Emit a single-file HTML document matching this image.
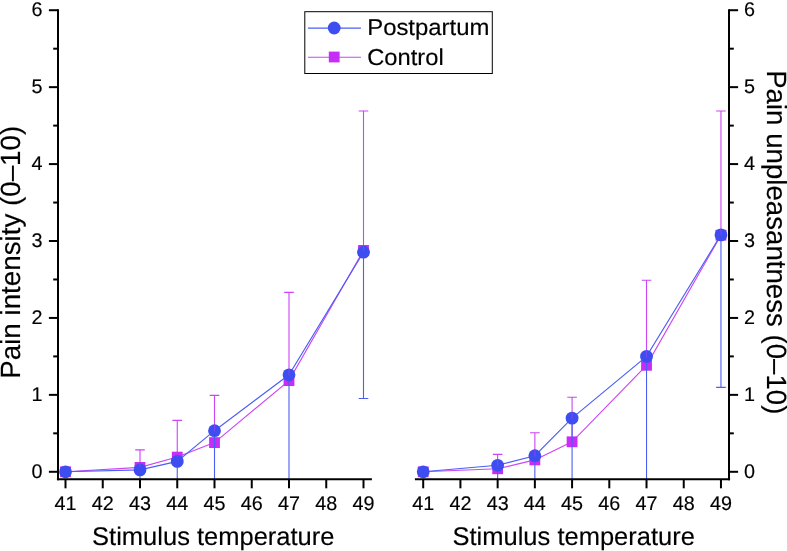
<!DOCTYPE html>
<html><head><meta charset="utf-8"><title>Chart</title>
<style>
html,body{margin:0;padding:0;background:#fff;}
svg{display:block;will-change:transform;}
text{text-rendering:geometricPrecision;}
text{font-family:"Liberation Sans",sans-serif;fill:#000;stroke:#000;stroke-width:0.15px;}
.tk{font-size:19.8px;}
.lg{font-size:23px;}
.xl{font-size:25.5px;}
.yl{font-size:27.8px;}
</style></head>
<body>
<svg width="787" height="551" viewBox="0 0 787 551">
<rect width="787" height="551" fill="#fff"/>
<polyline fill="none" stroke="#cc44f6" stroke-width="1.1" points="65.50,471.80 140.00,467.40 177.25,457.10 214.50,442.60 289.00,380.60 363.50,250.40"/>
<path d="M140.00 467.40V449.90M135.20 449.90H144.80" stroke="#cc44f6" stroke-width="1.1" fill="none"/>
<path d="M177.25 457.10V420.40M172.45 420.40H182.05" stroke="#cc44f6" stroke-width="1.1" fill="none"/>
<path d="M214.50 442.60V395.40M209.70 395.40H219.30" stroke="#cc44f6" stroke-width="1.1" fill="none"/>
<path d="M289.00 380.60V292.40M284.20 292.40H293.80" stroke="#cc44f6" stroke-width="1.1" fill="none"/>
<path d="M363.50 250.40V111.00M358.70 111.00H368.30" stroke="#cc44f6" stroke-width="1.1" fill="none"/>
<rect x="60.10" y="466.40" width="10.8" height="10.8" fill="#c62df6"/>
<rect x="134.60" y="462.00" width="10.8" height="10.8" fill="#c62df6"/>
<rect x="171.85" y="451.70" width="10.8" height="10.8" fill="#c62df6"/>
<rect x="209.10" y="437.20" width="10.8" height="10.8" fill="#c62df6"/>
<rect x="283.60" y="375.20" width="10.8" height="10.8" fill="#c62df6"/>
<rect x="358.10" y="245.00" width="10.8" height="10.8" fill="#c62df6"/>
<polyline fill="none" stroke="#4a5ef4" stroke-width="1.1" points="65.50,471.80 140.00,469.90 177.25,461.40 214.50,430.70 289.00,374.80 363.50,252.20"/>
<path d="M140.00 469.90V479.25" stroke="#4a5ef4" stroke-width="1.1" fill="none"/>
<path d="M177.25 461.40V479.25" stroke="#4a5ef4" stroke-width="1.1" fill="none"/>
<path d="M214.50 430.70V479.25" stroke="#4a5ef4" stroke-width="1.1" fill="none"/>
<path d="M289.00 374.80V479.25" stroke="#4a5ef4" stroke-width="1.1" fill="none"/>
<path d="M363.50 252.20V398.50M358.70 398.50H368.30" stroke="#4a5ef4" stroke-width="1.1" fill="none"/>
<circle cx="65.50" cy="471.80" r="6.4" fill="#3d4df0"/>
<circle cx="140.00" cy="469.90" r="6.4" fill="#3d4df0"/>
<circle cx="177.25" cy="461.40" r="6.4" fill="#3d4df0"/>
<circle cx="214.50" cy="430.70" r="6.4" fill="#3d4df0"/>
<circle cx="289.00" cy="374.80" r="6.4" fill="#3d4df0"/>
<circle cx="363.50" cy="252.20" r="6.4" fill="#3d4df0"/>
<path d="M140.00 463.90V467.40" stroke="#cc44f6" stroke-width="1.1" fill="none" opacity="0.4"/>
<path d="M177.25 455.40V457.10" stroke="#cc44f6" stroke-width="1.1" fill="none" opacity="0.4"/>
<path d="M214.50 424.70V431.70" stroke="#cc44f6" stroke-width="1.1" fill="none" opacity="0.4"/>
<path d="M289.00 368.80V375.80" stroke="#cc44f6" stroke-width="1.1" fill="none" opacity="0.4"/>
<path d="M363.50 246.20V250.40" stroke="#cc44f6" stroke-width="1.1" fill="none" opacity="0.4"/>
<path d="M56.90 479.25H371.90" stroke="#000" stroke-width="2.0" fill="none"/>
<path d="M58.00 9.20V480.35" stroke="#000" stroke-width="2.0" fill="none"/>
<path d="M65.50 479.25V488.30" stroke="#000" stroke-width="2.0" fill="none"/>
<text x="65.50" y="509.7" text-anchor="middle" class="tk">41</text>
<path d="M102.75 479.25V488.30" stroke="#000" stroke-width="2.0" fill="none"/>
<text x="102.75" y="509.7" text-anchor="middle" class="tk">42</text>
<path d="M140.00 479.25V488.30" stroke="#000" stroke-width="2.0" fill="none"/>
<text x="140.00" y="509.7" text-anchor="middle" class="tk">43</text>
<path d="M177.25 479.25V488.30" stroke="#000" stroke-width="2.0" fill="none"/>
<text x="177.25" y="509.7" text-anchor="middle" class="tk">44</text>
<path d="M214.50 479.25V488.30" stroke="#000" stroke-width="2.0" fill="none"/>
<text x="214.50" y="509.7" text-anchor="middle" class="tk">45</text>
<path d="M251.75 479.25V488.30" stroke="#000" stroke-width="2.0" fill="none"/>
<text x="251.75" y="509.7" text-anchor="middle" class="tk">46</text>
<path d="M289.00 479.25V488.30" stroke="#000" stroke-width="2.0" fill="none"/>
<text x="289.00" y="509.7" text-anchor="middle" class="tk">47</text>
<path d="M326.25 479.25V488.30" stroke="#000" stroke-width="2.0" fill="none"/>
<text x="326.25" y="509.7" text-anchor="middle" class="tk">48</text>
<path d="M363.50 479.25V488.30" stroke="#000" stroke-width="2.0" fill="none"/>
<text x="363.50" y="509.7" text-anchor="middle" class="tk">49</text>
<path d="M58.00 471.80H48.90" stroke="#000" stroke-width="2" fill="none"/>
<text x="42.6" y="477.90" text-anchor="end" class="tk">0</text>
<path d="M58.00 433.34H53.20" stroke="#000" stroke-width="2" fill="none"/>
<path d="M58.00 394.87H48.90" stroke="#000" stroke-width="2" fill="none"/>
<text x="42.6" y="400.97" text-anchor="end" class="tk">1</text>
<path d="M58.00 356.40H53.20" stroke="#000" stroke-width="2" fill="none"/>
<path d="M58.00 317.94H48.90" stroke="#000" stroke-width="2" fill="none"/>
<text x="42.6" y="324.04" text-anchor="end" class="tk">2</text>
<path d="M58.00 279.48H53.20" stroke="#000" stroke-width="2" fill="none"/>
<path d="M58.00 241.01H48.90" stroke="#000" stroke-width="2" fill="none"/>
<text x="42.6" y="247.11" text-anchor="end" class="tk">3</text>
<path d="M58.00 202.55H53.20" stroke="#000" stroke-width="2" fill="none"/>
<path d="M58.00 164.08H48.90" stroke="#000" stroke-width="2" fill="none"/>
<text x="42.6" y="170.18" text-anchor="end" class="tk">4</text>
<path d="M58.00 125.61H53.20" stroke="#000" stroke-width="2" fill="none"/>
<path d="M58.00 87.15H48.90" stroke="#000" stroke-width="2" fill="none"/>
<text x="42.6" y="93.25" text-anchor="end" class="tk">5</text>
<path d="M58.00 48.69H53.20" stroke="#000" stroke-width="2" fill="none"/>
<path d="M58.00 10.22H48.90" stroke="#000" stroke-width="2" fill="none"/>
<text x="42.6" y="16.32" text-anchor="end" class="tk">6</text>
<polyline fill="none" stroke="#cc44f6" stroke-width="1.1" points="423.20,471.80 497.64,468.80 534.86,459.90 572.08,441.80 646.52,365.30 720.96,235.20"/>
<path d="M497.64 468.80V454.40M492.84 454.40H502.44" stroke="#cc44f6" stroke-width="1.1" fill="none"/>
<path d="M534.86 459.90V432.80M530.06 432.80H539.66" stroke="#cc44f6" stroke-width="1.1" fill="none"/>
<path d="M572.08 441.80V397.20M567.28 397.20H576.88" stroke="#cc44f6" stroke-width="1.1" fill="none"/>
<path d="M646.52 365.30V280.20M641.72 280.20H651.32" stroke="#cc44f6" stroke-width="1.1" fill="none"/>
<path d="M720.96 235.20V111.00M716.16 111.00H725.76" stroke="#cc44f6" stroke-width="1.1" fill="none"/>
<rect x="417.80" y="466.40" width="10.8" height="10.8" fill="#c62df6"/>
<rect x="492.24" y="463.40" width="10.8" height="10.8" fill="#c62df6"/>
<rect x="529.46" y="454.50" width="10.8" height="10.8" fill="#c62df6"/>
<rect x="566.68" y="436.40" width="10.8" height="10.8" fill="#c62df6"/>
<rect x="641.12" y="359.90" width="10.8" height="10.8" fill="#c62df6"/>
<rect x="715.56" y="229.80" width="10.8" height="10.8" fill="#c62df6"/>
<polyline fill="none" stroke="#4a5ef4" stroke-width="1.1" points="423.20,471.80 497.64,465.30 534.86,455.70 572.08,418.15 646.52,356.40 720.96,234.90"/>
<path d="M497.64 465.30V479.25" stroke="#4a5ef4" stroke-width="1.1" fill="none"/>
<path d="M534.86 455.70V479.25" stroke="#4a5ef4" stroke-width="1.1" fill="none"/>
<path d="M572.08 418.15V479.25" stroke="#4a5ef4" stroke-width="1.1" fill="none"/>
<path d="M646.52 356.40V479.25" stroke="#4a5ef4" stroke-width="1.1" fill="none"/>
<path d="M720.96 234.90V387.40M716.16 387.40H725.76" stroke="#4a5ef4" stroke-width="1.1" fill="none"/>
<circle cx="423.20" cy="471.80" r="6.4" fill="#3d4df0"/>
<circle cx="497.64" cy="465.30" r="6.4" fill="#3d4df0"/>
<circle cx="534.86" cy="455.70" r="6.4" fill="#3d4df0"/>
<circle cx="572.08" cy="418.15" r="6.4" fill="#3d4df0"/>
<circle cx="646.52" cy="356.40" r="6.4" fill="#3d4df0"/>
<circle cx="720.96" cy="234.90" r="6.4" fill="#3d4df0"/>
<path d="M497.64 459.30V466.30" stroke="#cc44f6" stroke-width="1.1" fill="none" opacity="0.4"/>
<path d="M534.86 449.70V456.70" stroke="#cc44f6" stroke-width="1.1" fill="none" opacity="0.4"/>
<path d="M572.08 412.15V419.15" stroke="#cc44f6" stroke-width="1.1" fill="none" opacity="0.4"/>
<path d="M646.52 350.40V357.40" stroke="#cc44f6" stroke-width="1.1" fill="none" opacity="0.4"/>
<path d="M720.96 228.90V235.20" stroke="#cc44f6" stroke-width="1.1" fill="none" opacity="0.4"/>
<path d="M414.90 479.25H730.10" stroke="#000" stroke-width="2.0" fill="none"/>
<path d="M729.00 9.20V480.35" stroke="#000" stroke-width="2.0" fill="none"/>
<path d="M423.20 479.25V488.30" stroke="#000" stroke-width="2.0" fill="none"/>
<text x="423.20" y="509.7" text-anchor="middle" class="tk">41</text>
<path d="M460.42 479.25V488.30" stroke="#000" stroke-width="2.0" fill="none"/>
<text x="460.42" y="509.7" text-anchor="middle" class="tk">42</text>
<path d="M497.64 479.25V488.30" stroke="#000" stroke-width="2.0" fill="none"/>
<text x="497.64" y="509.7" text-anchor="middle" class="tk">43</text>
<path d="M534.86 479.25V488.30" stroke="#000" stroke-width="2.0" fill="none"/>
<text x="534.86" y="509.7" text-anchor="middle" class="tk">44</text>
<path d="M572.08 479.25V488.30" stroke="#000" stroke-width="2.0" fill="none"/>
<text x="572.08" y="509.7" text-anchor="middle" class="tk">45</text>
<path d="M609.30 479.25V488.30" stroke="#000" stroke-width="2.0" fill="none"/>
<text x="609.30" y="509.7" text-anchor="middle" class="tk">46</text>
<path d="M646.52 479.25V488.30" stroke="#000" stroke-width="2.0" fill="none"/>
<text x="646.52" y="509.7" text-anchor="middle" class="tk">47</text>
<path d="M683.74 479.25V488.30" stroke="#000" stroke-width="2.0" fill="none"/>
<text x="683.74" y="509.7" text-anchor="middle" class="tk">48</text>
<path d="M720.96 479.25V488.30" stroke="#000" stroke-width="2.0" fill="none"/>
<text x="720.96" y="509.7" text-anchor="middle" class="tk">49</text>
<path d="M729.00 471.80H738.10" stroke="#000" stroke-width="2" fill="none"/>
<text x="744.0" y="477.90" text-anchor="start" class="tk">0</text>
<path d="M729.00 433.34H733.80" stroke="#000" stroke-width="2" fill="none"/>
<path d="M729.00 394.87H738.10" stroke="#000" stroke-width="2" fill="none"/>
<text x="744.0" y="400.97" text-anchor="start" class="tk">1</text>
<path d="M729.00 356.40H733.80" stroke="#000" stroke-width="2" fill="none"/>
<path d="M729.00 317.94H738.10" stroke="#000" stroke-width="2" fill="none"/>
<text x="744.0" y="324.04" text-anchor="start" class="tk">2</text>
<path d="M729.00 279.48H733.80" stroke="#000" stroke-width="2" fill="none"/>
<path d="M729.00 241.01H738.10" stroke="#000" stroke-width="2" fill="none"/>
<text x="744.0" y="247.11" text-anchor="start" class="tk">3</text>
<path d="M729.00 202.55H733.80" stroke="#000" stroke-width="2" fill="none"/>
<path d="M729.00 164.08H738.10" stroke="#000" stroke-width="2" fill="none"/>
<text x="744.0" y="170.18" text-anchor="start" class="tk">4</text>
<path d="M729.00 125.61H733.80" stroke="#000" stroke-width="2" fill="none"/>
<path d="M729.00 87.15H738.10" stroke="#000" stroke-width="2" fill="none"/>
<text x="744.0" y="93.25" text-anchor="start" class="tk">5</text>
<path d="M729.00 48.69H733.80" stroke="#000" stroke-width="2" fill="none"/>
<path d="M729.00 10.22H738.10" stroke="#000" stroke-width="2" fill="none"/>
<text x="744.0" y="16.32" text-anchor="start" class="tk">6</text>

<rect x="304.8" y="11.7" width="187.5" height="61.8" fill="#fff" stroke="#000" stroke-width="1"/>
<path d="M307.9 28.15H360.9" stroke="#4a5ef4" stroke-width="1.1"/>
<circle cx="334.2" cy="28" r="6.4" fill="#3d4df0"/>
<path d="M307.9 57.2H360.9" stroke="#cc44f6" stroke-width="1.1"/>
<rect x="328.8" y="51.6" width="10.8" height="10.8" fill="#c62df6"/>
<text x="367.2" y="35.2" class="lg" textLength="122.2" lengthAdjust="spacingAndGlyphs">Postpartum</text>
<text x="367.2" y="64.9" class="lg" textLength="76.5" lengthAdjust="spacingAndGlyphs">Control</text>


<text x="213.3" y="544.6" text-anchor="middle" class="xl">Stimulus temperature</text>
<text x="573.7" y="544.6" text-anchor="middle" class="xl">Stimulus temperature</text>
<text transform="translate(19.9 252.3) rotate(-90)" text-anchor="middle" class="yl" textLength="252.9" lengthAdjust="spacingAndGlyphs">Pain intensity (0–10)</text>
<text transform="translate(767.2 242.3) rotate(90)" text-anchor="middle" class="yl" textLength="344.3" lengthAdjust="spacingAndGlyphs">Pain unpleasantness (0–10)</text>

</svg>
</body></html>
